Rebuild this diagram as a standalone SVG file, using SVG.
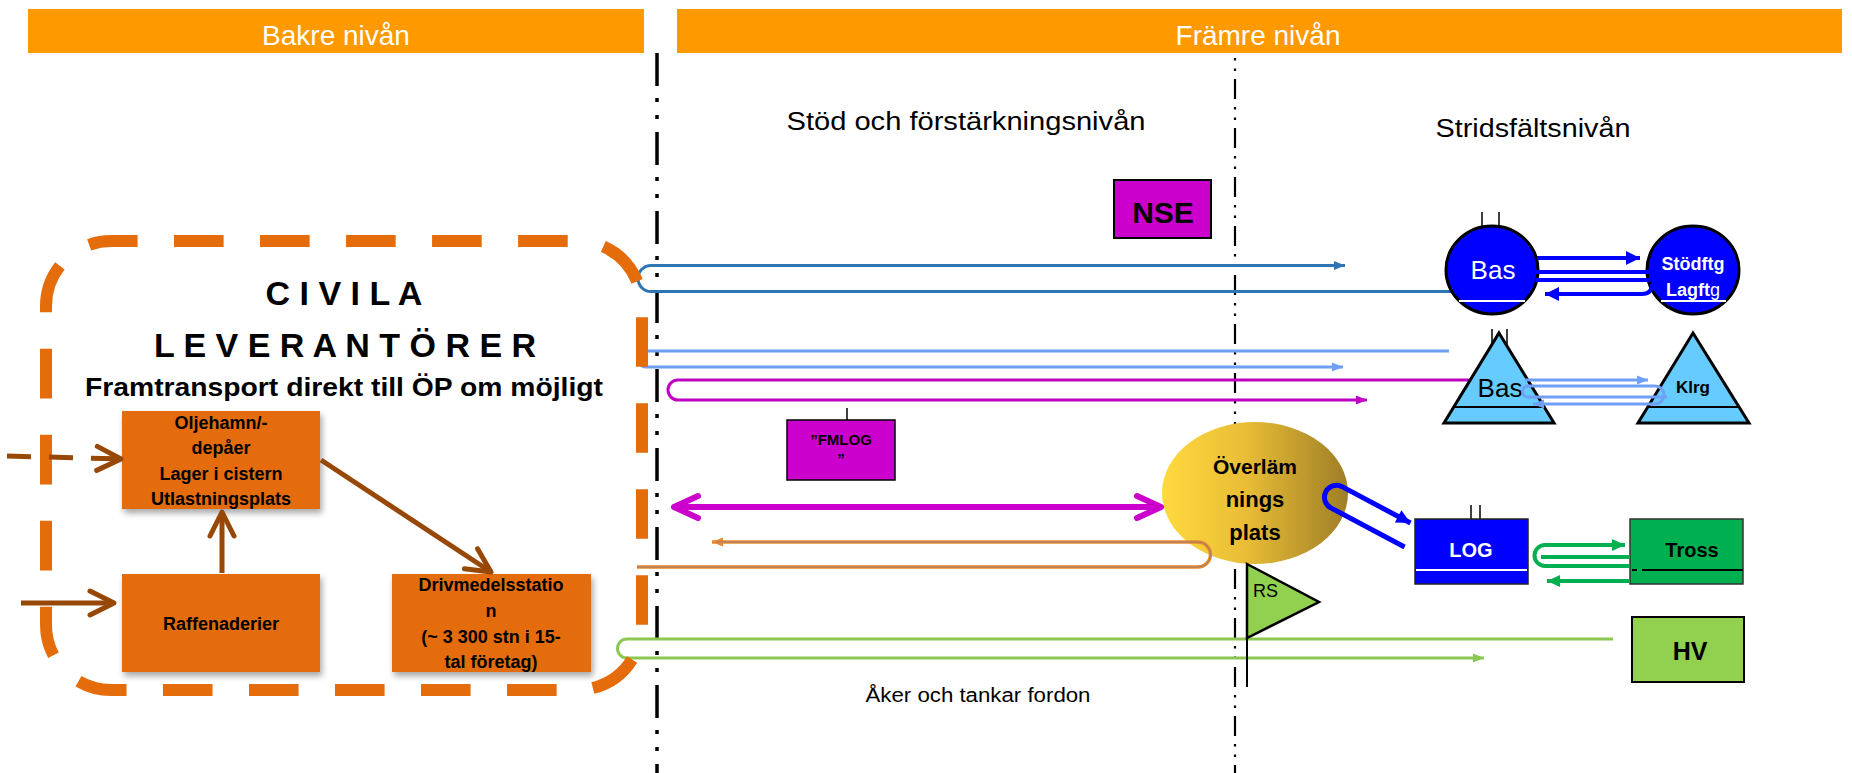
<svg xmlns="http://www.w3.org/2000/svg" width="1852" height="773" viewBox="0 0 1852 773">
<style>
text{font-family:'Liberation Sans',Arial,sans-serif}
.hdr{fill:#FF9900}
.hdrt{fill:#fff;font-size:28px;text-anchor:middle}
.lvl{fill:#000;font-size:26px;text-anchor:middle}
.ob{fill:#E46C0A;filter:url(#sh)}
.obt{fill:#000;font-size:18px;font-weight:bold;text-anchor:middle}
.br{stroke:#984806;stroke-width:5;fill:none;marker-end:url(#chev)}
.b{font-weight:bold}
.c{text-anchor:middle}
.thin{fill:none;stroke-width:3}
</style>
<defs>
<filter id="sh" x="-10%" y="-10%" width="130%" height="140%">
<feDropShadow dx="2" dy="4" stdDeviation="3" flood-color="#000" flood-opacity="0.35"/>
</filter>
<linearGradient id="gold" x1="0" y1="0" x2="1" y2="0">
<stop offset="0" stop-color="#FFDA3E"/>
<stop offset="0.45" stop-color="#E9BD36"/>
<stop offset="1" stop-color="#9E7E27"/>
</linearGradient>
<marker id="chev" markerUnits="userSpaceOnUse" viewBox="-30 -16 34 32" refX="0" refY="0" markerWidth="34" markerHeight="32" orient="auto">
<path d="M-24,-12 L0,0 L-24,12" fill="none" stroke="#984806" stroke-width="5" stroke-linecap="round" stroke-linejoin="round"/>
</marker>
<marker id="mchev" markerUnits="userSpaceOnUse" viewBox="-30 -16 34 32" refX="0" refY="0" markerWidth="34" markerHeight="32" orient="auto-start-reverse">
<path d="M-24,-11 L0,0 L-24,11" fill="none" stroke="#CC00CC" stroke-width="6" stroke-linecap="round" stroke-linejoin="round"/>
</marker>
<marker id="aDB" markerUnits="userSpaceOnUse" viewBox="-12 -6 13 12" refX="0" refY="0" markerWidth="13" markerHeight="12" orient="auto"><path d="M-11,-4.5 L0,0 L-11,4.5 z" fill="#2E75B6"/></marker>
<marker id="aLB" markerUnits="userSpaceOnUse" viewBox="-12 -6 13 12" refX="0" refY="0" markerWidth="13" markerHeight="12" orient="auto"><path d="M-11,-4.5 L0,0 L-11,4.5 z" fill="#6FA0F5"/></marker>
<marker id="aMG" markerUnits="userSpaceOnUse" viewBox="-12 -6 13 12" refX="0" refY="0" markerWidth="13" markerHeight="12" orient="auto"><path d="M-11,-4.5 L0,0 L-11,4.5 z" fill="#C000C0"/></marker>
<marker id="aOR" markerUnits="userSpaceOnUse" viewBox="-12 -6 13 12" refX="0" refY="0" markerWidth="13" markerHeight="12" orient="auto"><path d="M-11,-4.5 L0,0 L-11,4.5 z" fill="#E8892C"/></marker>
<marker id="aLG" markerUnits="userSpaceOnUse" viewBox="-12 -6 13 12" refX="0" refY="0" markerWidth="13" markerHeight="12" orient="auto"><path d="M-11,-4.5 L0,0 L-11,4.5 z" fill="#8CC850"/></marker>
<marker id="aG" markerUnits="userSpaceOnUse" viewBox="-14 -8 15 16" refX="0" refY="0" markerWidth="15" markerHeight="16" orient="auto"><path d="M-13,-6 L0,0 L-13,6 z" fill="#00B050"/></marker>
<marker id="aB" markerUnits="userSpaceOnUse" viewBox="-15 -9 16 18" refX="0" refY="0" markerWidth="16" markerHeight="18" orient="auto"><path d="M-14,-7 L0,0 L-14,7 z" fill="#0000FF"/></marker>
</defs>

<g id="headers">
<rect class="hdr" x="28" y="9" width="616" height="44"/>
<text class="hdrt" x="336" y="45">Bakre nivån</text>
<rect class="hdr" x="677" y="9" width="1165" height="44"/>
<text class="hdrt" x="1258" y="45">Främre nivån</text>
</g>

<g id="dividers">
<line x1="657" y1="53" x2="657" y2="773" stroke="#000" stroke-width="3.5" stroke-dasharray="33 12 4 13 4 13"/>
<line x1="1235" y1="53" x2="1235" y2="773" stroke="#000" stroke-width="2.2" stroke-dasharray="20 8 2.5 8 2.5 8" stroke-dashoffset="23"/>
</g>

<g id="level-labels">
<text class="lvl" x="966" y="130" textLength="359" lengthAdjust="spacingAndGlyphs">Stöd och förstärkningsnivån</text>
<text class="lvl" x="1533" y="137" textLength="195" lengthAdjust="spacingAndGlyphs">Stridsfältsnivån</text>
<text x="978" y="702" font-size="20" textLength="225" lengthAdjust="spacingAndGlyphs" class="c">Åker och tankar fordon</text>
</g>

<g id="connectors-back">
<path class="thin" stroke="#2E75B6" d="M1453 291.5 L651 291.5 A13 13 0 0 1 651 265.5 L1345 265.5" marker-end="url(#aDB)"/>
<path class="thin" stroke="#6FA0F5" d="M1449 351 L646 351 A8 8 0 0 0 646 367 L1343 367" marker-end="url(#aLB)"/>
<path class="thin" stroke="#C000C0" d="M1472 380 L678 380 A10 10 0 0 0 678 400 L1367 400" marker-end="url(#aMG)"/>
<path class="thin" stroke="#8CC850" d="M1613 639 L627 639 A9.5 9.5 0 0 0 627 658 L1484 658" marker-end="url(#aLG)"/>
</g>

<g id="civila">
<rect x="46" y="241" width="596" height="449" rx="65" ry="65" fill="none" stroke="#E46C0A" stroke-width="12" stroke-dasharray="49.6 36.42" stroke-dashoffset="23"/>
<text x="344" y="305" font-size="34" class="b c">C I V I L A</text>
<text x="345" y="357" font-size="34" class="b c">L E V E R A N T Ö R E R</text>
<text x="344" y="396" font-size="25" class="b c" textLength="518" lengthAdjust="spacingAndGlyphs">Framtransport direkt till ÖP om möjligt</text>
</g>

<g id="oljehamn">
<rect class="ob" x="122" y="411" width="198" height="98"/>
<text class="obt" x="221" y="429">Oljehamn/-</text>
<text class="obt" x="221" y="454">depåer</text>
<text class="obt" x="221" y="480">Lager i cistern</text>
<text class="obt" x="221" y="505">Utlastningsplats</text>
</g>
<g id="raffenaderier">
<rect class="ob" x="122" y="574" width="198" height="98"/>
<text class="obt" x="221" y="630">Raffenaderier</text>
</g>
<g id="drivmedelsstation">
<rect class="ob" x="392" y="574" width="199" height="98"/>
<text class="obt" x="491" y="591">Drivmedelsstatio</text>
<text class="obt" x="491" y="617">n</text>
<text class="obt" x="491" y="643">(~ 3 300 stn i 15-</text>
<text class="obt" x="491" y="668">tal företag)</text>
</g>

<g id="brown-arrows">
<path class="br" d="M7 456 L121 459" stroke-dasharray="24 18"/>
<path class="br" d="M21 603 L114 603"/>
<path class="br" d="M222 573 L222 512"/>
<path class="br" d="M321 460 L491 572"/>
</g>

<g id="nse">
<rect x="1114" y="180" width="97" height="58" fill="#CC00CC" stroke="#000" stroke-width="2"/>
<text x="1163" y="223" font-size="30" class="b c">NSE</text>
</g>

<g id="fmlog">
<line x1="847" y1="408" x2="847" y2="420" stroke="#000" stroke-width="1.5"/>
<rect x="787" y="420" width="108" height="60" fill="#CC00CC" stroke="#000" stroke-width="1.5"/>
<text x="841" y="445" font-size="15" class="b c">”FMLOG</text>
<text x="841" y="464" font-size="15" class="b c">”</text>
</g>

<g id="overlamningsplats">
<ellipse cx="1255" cy="493" rx="93" ry="71" fill="url(#gold)"/>
<text x="1255" y="474" font-size="21" class="b c">Överläm</text>
<text x="1255" y="507" font-size="22" class="b c">nings</text>
<text x="1255" y="540" font-size="22" class="b c">plats</text>
</g>

<g id="rs">
<line x1="1247" y1="564" x2="1247" y2="687" stroke="#000" stroke-width="2"/>
<polygon points="1247,564 1319,602 1247,638" fill="#92D050" stroke="#000" stroke-width="2.5" stroke-linejoin="miter"/>
<text x="1253" y="597" font-size="18">RS</text>
</g>

<g id="bas-circle">
<line x1="1482" y1="212" x2="1482" y2="228" stroke="#000" stroke-width="1.5"/>
<line x1="1499" y1="212" x2="1499" y2="228" stroke="#000" stroke-width="1.5"/>
<ellipse cx="1492" cy="270" rx="46" ry="44" fill="#0000FF" stroke="#000" stroke-width="3"/>
<line x1="1459" y1="301" x2="1525" y2="301" stroke="#fff" stroke-width="2"/>
<text x="1493" y="279" font-size="26" fill="#fff" class="c">Bas</text>
</g>

<g id="stodftg">
<ellipse cx="1693" cy="270" rx="46" ry="44" fill="#0000FF" stroke="#000" stroke-width="3"/>
<line x1="1661" y1="301" x2="1726" y2="301" stroke="#fff" stroke-width="2"/>
<text x="1693" y="270" font-size="18" fill="#fff" class="b c">Stödftg</text>
<text x="1693" y="296" font-size="18" fill="#fff" class="b c">Lagft<tspan font-weight="normal">g</tspan></text>
</g>

<g id="bas-triangle">
<line x1="1492" y1="329" x2="1492" y2="345" stroke="#000" stroke-width="1.5"/>
<line x1="1507" y1="329" x2="1507" y2="345" stroke="#000" stroke-width="1.5"/>
<polygon points="1499,333 1554,423 1444,423" fill="#66CCFF" stroke="#000" stroke-width="3"/>
<line x1="1454" y1="407" x2="1544" y2="407" stroke="#000" stroke-width="2"/>
<text x="1500" y="397" font-size="26" class="c">Bas</text>
</g>

<g id="klrg">
<polygon points="1693,333 1749,423 1638,423" fill="#66CCFF" stroke="#000" stroke-width="3"/>
<line x1="1648" y1="407" x2="1739" y2="407" stroke="#000" stroke-width="2"/>
<text x="1693" y="393" font-size="17" class="b c">Klrg</text>
</g>

<g id="log">
<line x1="1471" y1="505" x2="1471" y2="519" stroke="#000" stroke-width="1.5"/>
<line x1="1480" y1="505" x2="1480" y2="519" stroke="#000" stroke-width="1.5"/>
<rect x="1415" y="519" width="113" height="65" fill="#0000FF" stroke="#222" stroke-width="1.5"/>
<line x1="1416" y1="570" x2="1527" y2="570" stroke="#fff" stroke-width="2"/>
<text x="1471" y="557" font-size="20" fill="#fff" class="b c">LOG</text>
</g>

<g id="tross">
<rect x="1630" y="519" width="113" height="65" fill="#00B050" stroke="#333" stroke-width="1.5"/>
<line x1="1642" y1="570" x2="1743" y2="570" stroke="#000" stroke-width="2"/>
<line x1="1632" y1="570" x2="1637" y2="570" stroke="#000" stroke-width="2"/>
<text x="1692" y="557" font-size="20" class="b c">Tross</text>
</g>

<g id="hv">
<rect x="1632" y="617" width="112" height="65" fill="#92D050" stroke="#000" stroke-width="2"/>
<text x="1690" y="660" font-size="25" class="b c">HV</text>
</g>

<g id="connectors">
<path fill="none" stroke="#CC00CC" stroke-width="6" d="M674 507 L1161 507" marker-start="url(#mchev)" marker-end="url(#mchev)"/>
<path fill="none" stroke="#E8892C" stroke-width="3.5" d="M637 567 L1198 567 A12.5 12.5 0 0 0 1198 542 L712 542" marker-end="url(#aOR)"/>
<path fill="none" stroke="#8A7A8A" stroke-width="0.8" d="M637 567 L1198 567 A12.5 12.5 0 0 0 1198 542 L716 542"/>
<path fill="none" stroke="#0000FF" stroke-width="5" d="M1404.6 547 L1330.4 507.6 A12 12 0 0 1 1341.6 486.4 L1410.5 523" marker-end="url(#aB)"/>
<g fill="none" stroke="#0000FF" stroke-width="4">
<path d="M1537 258 L1640 258" marker-end="url(#aB)"/>
<path d="M1536 272 L1650 272"/>
<path d="M1536 280 L1650 280"/>
<path d="M1652 284 Q1652 294 1642 294 L1545 294" marker-end="url(#aB)"/>
</g>
<g fill="none" stroke="#6FA0F5" stroke-width="3">
<path d="M1525 380 L1648 380" marker-end="url(#aLB)"/>
<path d="M1667 397 L1528 397 A5.5 5.5 0 0 1 1528 386 L1655 386 A9 9 0 0 1 1655 404 L1533 404" marker-end="url(#aLB)"/>
</g>
<g fill="none" stroke="#00B050" stroke-width="4">
<path d="M1630 566 L1545 566 A10.5 10.5 0 0 1 1545 545 L1625 545" marker-end="url(#aG)"/>
<path d="M1541 557 L1630 557"/>
<path d="M1630 581 L1547 581" marker-end="url(#aG)"/>
</g>
</g>
</svg>
